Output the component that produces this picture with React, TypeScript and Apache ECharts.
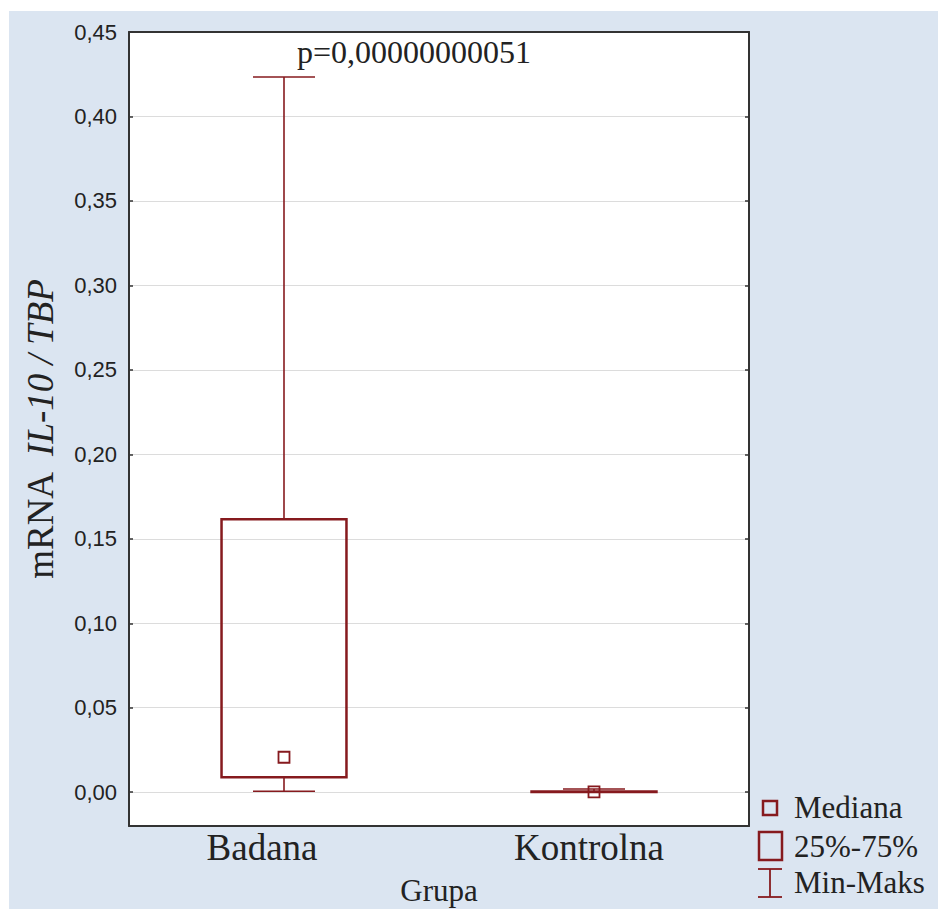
import React, { useEffect, useRef } from "react";
import * as echarts from "echarts";

const categories = ["Badana", "Kontrolna"];
const minVals = [0.0006, 0.0];
const q1Vals = [0.0089, 0.0001];
const medianVals = [0.0207, 0.0002];
const q3Vals = [0.1616, 0.0004];
const maxVals = [0.4234, 0.0019];
const yTicks = [0, 0.05, 0.1, 0.15, 0.2, 0.25, 0.3, 0.35, 0.4, 0.45];
const pText = "p=0,00000000051";
const xTitle = "Grupa";
const legendLabels = ["Mediana", "25%-75%", "Min-Maks"];

const RED = "#861a1e";
const SERIF = "'Liberation Serif', 'Times New Roman', serif";
const SANS = "'Liberation Sans', Arial, sans-serif";
const TXT = "#222";

export default function App() {
  const ref = useRef<HTMLDivElement>(null);
  useEffect(() => {
    if (!ref.current) return;
    const chart = echarts.init(ref.current, undefined, { renderer: "svg" });
    const data = categories.map((_, i) => [i, minVals[i], q1Vals[i], medianVals[i], q3Vals[i], maxVals[i]]);
    const fmt = (v: number) => v.toFixed(2).replace(".", ",");
    chart.setOption({
      animation: false,
      backgroundColor: "#ffffff",
      grid: {
        left: 129, top: 32, right: 189, bottom: 83,
        show: true, backgroundColor: "#ffffff", borderWidth: 0,
        containLabel: false, outerBoundsMode: "none",
      },
      xAxis: [
        {
          type: "category",
          data: categories,
          position: "bottom",
          axisLine: { onZero: false, lineStyle: { color: "#333", width: 2 } },
          axisTick: { inside: true, alignWithLabel: true, length: 4, lineStyle: { color: "#333", width: 1.5 } },
          axisLabel: {
            fontFamily: SERIF, fontSize: 37, color: TXT, margin: 3, lineHeight: 37,
            formatter: (v: string) => (v === "Badana" ? `{a|${v}}` : `{b|${v}}`),
            rich: {
              a: { fontFamily: SERIF, fontSize: 37, color: TXT, padding: [0, 44, 0, 0] },
              b: { fontFamily: SERIF, fontSize: 37, color: TXT, padding: [0, 10, 0, 0] },
            },
          },
        },
        {
          type: "category",
          data: categories,
          position: "top",
          axisLine: { onZero: false, lineStyle: { color: "#333", width: 2 } },
          axisTick: { inside: true, alignWithLabel: true, length: 4, lineStyle: { color: "#333", width: 1.5 } },
          axisLabel: { show: false },
        },
      ],
      yAxis: [
        {
          type: "value",
          min: -0.02,
          max: 0.45,
          position: "left",
          axisLine: { show: true, onZero: false, lineStyle: { color: "#333", width: 2 } },
          axisTick: { show: true, inside: true, length: 4, customValues: yTicks, lineStyle: { color: "#333", width: 1.5 } },
          axisLabel: { customValues: yTicks, formatter: (v: number) => fmt(v), fontFamily: SANS, fontSize: 22, color: TXT, margin: 12 },
          splitLine: { show: true, lineStyle: { color: "#dcdcdc", width: 1 } },
          name: "{n|mRNA}{i|IL-10 / TBP}",
          nameLocation: "middle",
          nameGap: 70,
          nameRotate: 90,
          nameTextStyle: {
            rich: {
              n: { fontFamily: SERIF, fontSize: 37, color: TXT, padding: [0, 16, 0, 0] },
              i: { fontFamily: SERIF, fontSize: 37, color: TXT, fontStyle: "italic" },
            },
          },
        },
        {
          type: "value",
          min: -0.02,
          max: 0.45,
          position: "right",
          axisLine: { show: true, onZero: false, lineStyle: { color: "#333", width: 2 } },
          axisTick: { show: true, inside: true, length: 4, customValues: yTicks, lineStyle: { color: "#333", width: 1.5 } },
          axisLabel: { show: false },
          splitLine: { show: false },
        },
      ],
      series: [
        {
          type: "custom",
          xAxisIndex: 0,
          yAxisIndex: 0,
          data,
          encode: { x: 0, y: [1, 2, 3, 4, 5] },
          renderItem: (params: any, api: any) => {
            const xi = api.value(0);
            const pMin = api.coord([xi, api.value(1)]);
            const pQ1 = api.coord([xi, api.value(2)]);
            const pMed = api.coord([xi, api.value(3)]);
            const pQ3 = api.coord([xi, api.value(4)]);
            const pMax = api.coord([xi, api.value(5)]);
            const band = api.size([1, 0])[0];
            const cx = pMin[0];
            const boxW = band * 0.403;
            const capW = band * 0.2;
            const ms = 11;
            const lineStyle = { stroke: RED, lineWidth: 1.6, fill: "none" };
            return {
              type: "group",
              children: [
                { type: "line", shape: { x1: cx, y1: pQ3[1], x2: cx, y2: pMax[1] }, style: lineStyle },
                { type: "line", shape: { x1: cx - capW / 2, y1: pMax[1], x2: cx + capW / 2, y2: pMax[1] }, style: lineStyle },
                { type: "line", shape: { x1: cx, y1: pQ1[1], x2: cx, y2: pMin[1] }, style: lineStyle },
                { type: "line", shape: { x1: cx - capW / 2, y1: pMin[1], x2: cx + capW / 2, y2: pMin[1] }, style: lineStyle },
                {
                  type: "rect",
                  shape: { x: cx - boxW / 2, y: pQ3[1], width: boxW, height: pQ1[1] - pQ3[1] },
                  style: { stroke: RED, lineWidth: 2.5, fill: "none" },
                },
                {
                  type: "rect",
                  shape: { x: pMed[0] - ms / 2, y: pMed[1] - ms / 2, width: ms, height: ms },
                  style: { stroke: RED, lineWidth: 1.8, fill: "none" },
                },
              ],
            };
          },
        },
      ],
      graphic: [
        { type: "rect", z: -10, silent: true, shape: { x: 9, y: 11, width: 929, height: 898 }, style: { fill: "#dbe5f1" } },
        {
          type: "text",
          x: 297,
          y: 52,
          style: { text: pText, font: `32px ${SERIF}`, fill: TXT, verticalAlign: "middle", align: "left" },
        },
        {
          type: "text",
          x: 439,
          y: 890,
          style: { text: xTitle, font: `31px ${SERIF}`, fill: TXT, verticalAlign: "middle", align: "center" },
        },
        { type: "rect", shape: { x: 763, y: 801, width: 14, height: 14 }, style: { stroke: RED, lineWidth: 2.5, fill: "none" } },
        { type: "rect", shape: { x: 759, y: 832, width: 23, height: 28 }, style: { stroke: RED, lineWidth: 2.5, fill: "none" } },
        { type: "line", shape: { x1: 758, y1: 869, x2: 782, y2: 869 }, style: { stroke: RED, lineWidth: 1.8 } },
        { type: "line", shape: { x1: 758, y1: 897, x2: 782, y2: 897 }, style: { stroke: RED, lineWidth: 1.8 } },
        { type: "line", shape: { x1: 770, y1: 869, x2: 770, y2: 897 }, style: { stroke: RED, lineWidth: 1.8 } },
        { type: "text", x: 794, y: 807, style: { text: legendLabels[0], font: `31px ${SERIF}`, fill: TXT, verticalAlign: "middle" } },
        { type: "text", x: 794, y: 846, style: { text: legendLabels[1], font: `31px ${SERIF}`, fill: TXT, verticalAlign: "middle" } },
        { type: "text", x: 794, y: 882, style: { text: legendLabels[2], font: `31px ${SERIF}`, fill: TXT, verticalAlign: "middle" } },
      ],
    });
    return () => chart.dispose();
  }, []);
  return <div ref={ref} style={{ position: "absolute", left: 0, top: 0, width: 938, height: 909 }} />;
}
